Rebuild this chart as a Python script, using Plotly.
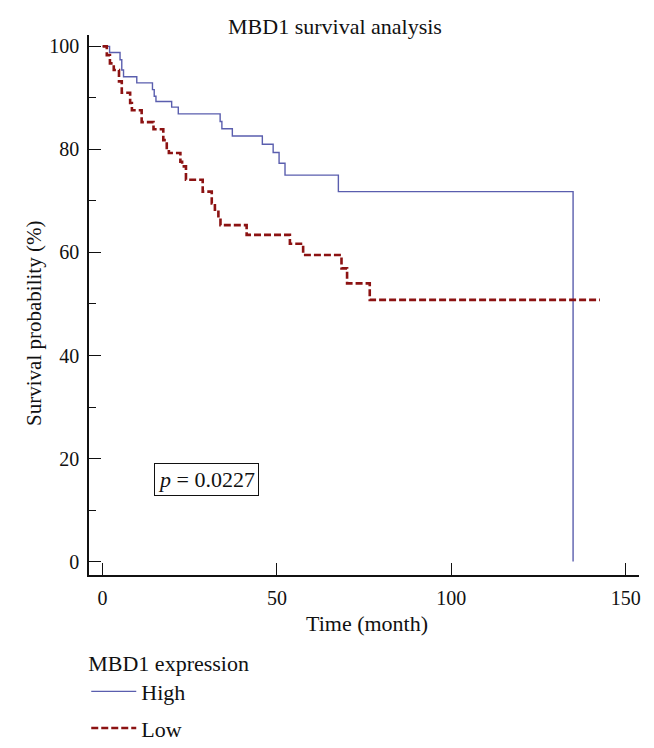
import plotly.graph_objects as go

# Kaplan-Meier steps (time in months, survival in %)
high_time = [0, 2.0, 5.0, 5.5, 6.0, 9.8, 14.3, 14.8, 15.3, 19.8, 21.7, 33.7, 34.2,
             37.2, 45.8, 48.9, 50.6, 52.3, 67.6, 134.9, 134.9]
high_surv = [100, 98.8, 97.4, 95.4, 94.1, 92.9, 91.6, 90.3, 89.3, 88.2, 86.9, 85.4, 84.0,
             82.6, 81.0, 79.4, 77.3, 75.0, 71.8, 71.8, 0]

low_time = [0, 1.2, 2.1, 3.2, 4.7, 5.5, 7.9, 8.4, 11.2, 14.6, 17.4, 18.4, 19.0, 22.3,
            22.8, 23.9, 28.7, 31.3, 32.2, 33.2, 33.8, 41.3, 53.7, 57.5, 68.5, 70.1,
            76.6, 142.6]
low_surv = [100, 98.3, 96.7, 95.4, 93.2, 91.0, 89.0, 87.6, 85.3, 83.9, 81.8, 80.0, 79.3,
            77.6, 76.7, 74.1, 71.8, 69.5, 68.3, 66.6, 65.3, 63.4, 61.7, 59.5, 56.9, 54.0,
            50.8, 50.8]

x_ticks = [0, 50, 100, 150]
y_ticks = [0, 20, 40, 60, 80, 100]
p_label = "<i>p</i> = 0.0227"

COLORS = {
    "high": "#5a5eae",
    "low": "#8c1212",
    "axis": "#111111",
    "text": "#111111",
}
FONT = "Liberation Serif, Times New Roman, serif"

fig = go.Figure()

fig.add_trace(go.Scatter(
    x=high_time, y=high_surv,
    mode="lines", line_shape="hv",
    name="High", legendgroup="high",
    line=dict(color=COLORS["high"], width=1.4),
))

fig.add_trace(go.Scatter(
    x=low_time, y=low_surv,
    mode="lines", line_shape="hv",
    name="Low", legendgroup="low",
    line=dict(color=COLORS["low"], width=2.6, dash="7px,3px"),
))

# p-value box
fig.add_annotation(
    x=29.8, y=16.0, xref="x", yref="y",
    text=p_label, showarrow=False,
    xanchor="center", yanchor="middle",
    font=dict(size=22, color=COLORS["text"], family=FONT),
    bordercolor=COLORS["axis"], borderwidth=1, borderpad=3,
    bgcolor="white",
)

# axis titles as annotations (margins are fixed, legend overflows the bottom like the original)
fig.add_annotation(
    x=-0.1, y=0.465, xref="paper", yref="paper",
    xanchor="center", yanchor="middle",
    text="Survival probability (%)", showarrow=False, textangle=-90,
    font=dict(size=21, color=COLORS["text"], family=FONT),
)
fig.add_annotation(
    x=0.505, y=-0.089, xref="paper", yref="paper",
    xanchor="center", yanchor="middle",
    text="Time (month)", showarrow=False,
    font=dict(size=22, color=COLORS["text"], family=FONT),
)

# page body adds an 8px offset, so margins are shifted by that much
fig.update_layout(
    width=654, height=748,
    paper_bgcolor="white", plot_bgcolor="white",
    font=dict(family=FONT, size=20, color=COLORS["text"]),
    title=dict(text="MBD1 survival analysis", x=0.5, xanchor="center",
               y=0.975, yanchor="middle", font=dict(size=22)),
    margin=dict(l=81, r=23, t=27, b=181, autoexpand=False),
    showlegend=True,
    legend=dict(
        title=dict(text="MBD1 expression", font=dict(size=22)),
        orientation="v",
        x=-0.005, xanchor="left",
        y=-0.124, yanchor="top",
        bgcolor="rgba(0,0,0,0)",
        font=dict(size=22),
        tracegroupgap=5,
        itemwidth=45,
    ),
)

fig.update_xaxes(
    range=[-3.9, 153.8],
    tickvals=x_ticks,
    showline=True, linecolor=COLORS["axis"], linewidth=1.5,
    ticks="inside", ticklen=12, tickwidth=1.3, tickcolor=COLORS["axis"],
    ticklabelstandoff=4,
    showgrid=False, zeroline=False,
)

fig.update_yaxes(
    range=[-2.6, 102.2],
    tickvals=y_ticks,
    showline=True, linecolor=COLORS["axis"], linewidth=1.5,
    ticks="inside", ticklen=12, tickwidth=1.3, tickcolor=COLORS["axis"],
    ticklabelstandoff=4,
    minor=dict(ticks="inside", ticklen=7, tickwidth=1.3, tickcolor=COLORS["axis"],
               dtick=10, tick0=0),
    showgrid=False, zeroline=False,
)

fig.write_html("out.html")
